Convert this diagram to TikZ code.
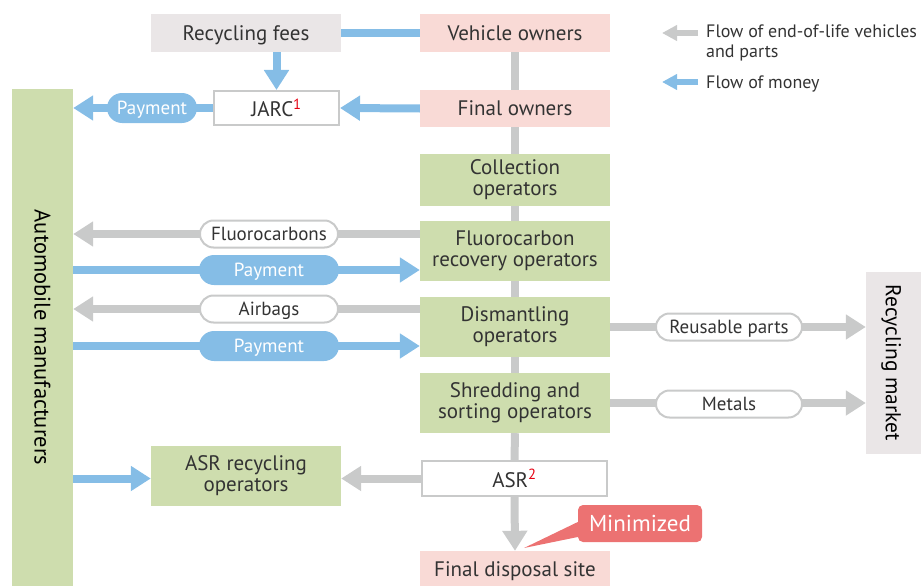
\documentclass[tikz,border=0pt]{standalone}
\usepackage{fontspec}
\setmainfont{PT Sans}
\usetikzlibrary{arrows.meta}
\definecolor{cblue}{HTML}{85BDE6}
\definecolor{cgray}{HTML}{C9CACA}
\definecolor{cgreen}{HTML}{CEDDAE}
\definecolor{cpink}{HTML}{F9DAD6}
\definecolor{cbox}{HTML}{EAE6E7}
\definecolor{ctext}{HTML}{333333}
\definecolor{cred}{HTML}{E60012}
\definecolor{cmin}{HTML}{EC7272}
\begin{document}
\begin{tikzpicture}[x=1pt,y=-1pt,
  every node/.style={inner sep=0pt, align=center, text=ctext, font=\fontsize{21}{21}\selectfont},
  one/.style={text depth=0pt},
  boxn/.style={minimum width=190pt, minimum height=#1},
  framebox/.style={one, fill=white, draw=cgray, line width=2pt},
  gline/.style={draw=cgray, line width=8pt},
  bline/.style={draw=cblue, line width=8pt},
  garrow/.style={gline, -{Triangle[length=20pt,width=24pt]}},
  barrow/.style={bline, -{Triangle[length=20pt,width=24pt]}},
  gsmall/.style={draw=cgray, line width=6pt, -{Triangle[length=15pt,width=15pt]}},
  bsmall/.style={draw=cblue, line width=6pt, -{Triangle[length=15pt,width=15pt]}},
  pillfont/.style={one, font=\fontsize{19}{19}\selectfont},
  wpill/.style={pillfont, fill=white, draw=cgray, line width=2pt, rounded corners=13.5pt, minimum height=27pt},
  bpill/.style={pillfont, fill=cblue, text=white, rounded corners=15pt, minimum height=30pt},
  sidelabel/.style={one, rotate=-90, text=black},
  legend/.style={align=left, text=ctext, font=\fontsize{18}{20}\selectfont}
]
\useasboundingbox (0,0) rectangle (921,586);

% side bars
\node[minimum width=61pt, minimum height=500pt, fill=cgreen] (auto) at (42.5,339) {};
\node[sidelabel, font=\fontsize{22.5}{22.5}\selectfont] (autol) at (42.5,337.5) {Automobile manufacturers};
\node[minimum width=55pt, minimum height=182pt, fill=cbox] (rm) at (893.5,363) {};
\node[sidelabel, font=\fontsize{21.5}{21.5}\selectfont] (rml) at (893.5,363) {Recycling market};

% main boxes
\node[one, boxn=38pt, fill=cbox] (rf) at (246,33) {Recycling fees};
\node[one, boxn=38pt, fill=cpink] (vo) at (515,33) {Vehicle owners};
\node[framebox, minimum width=125pt, minimum height=34pt] (jarc) at (276.5,108) {JARC\textcolor{cred}{\textsuperscript{1}}};
\node[one, boxn=37pt, fill=cpink] (fo) at (515,108.5) {Final owners};
\node[boxn=52pt, fill=cgreen] (co) at (515,180) {Collection\\operators};
\node[boxn=60pt, fill=cgreen] (fro) at (515,251) {Fluorocarbon\\recovery operators};
\node[boxn=60pt, fill=cgreen] (dis) at (515,327) {Dismantling\\operators};
\node[boxn=60pt, fill=cgreen] (shr) at (515,403) {Shredding and\\sorting operators};
\node[framebox, minimum width=185pt, minimum height=35pt] (asr) at (514.5,478.5) {ASR\textcolor{cred}{\textsuperscript{2}}};
\node[one, boxn=36pt, fill=cpink] (fds) at (515,569) {Final disposal site};
\node[boxn=60pt, fill=cgreen] (asrr) at (246,475.5) {ASR recycling\\operators};

% vertical gray flow
\draw[gline] (vo.south) -- (fo.north);
\draw[gline] (fo.south) -- (co.north);
\draw[gline] (co.south) -- (fro.north);
\draw[gline] (fro.south) -- (dis.north);
\draw[gline] (dis.south) -- (shr.north);
\draw[gline] (shr.south) -- (asr.north);
\draw[garrow] (asr.south) -- (fds.north);

% money top
\draw[bline] (rf.east) -- (vo.west);
\draw[barrow] (rf.south -| jarc.north) -- (jarc.north);
\draw[barrow] (fo.west) -- (jarc.east);
\draw[barrow] (jarc.west) -- (auto.east |- jarc.west);
\node[bpill, minimum width=90pt] (pay0) at (152,108) {Payment};

% left flows
\coordinate (y1) at ([yshift=17pt]fro.west);
\coordinate (y2) at ([yshift=-19pt]fro.west);
\coordinate (y3) at ([yshift=18pt]dis.west);
\coordinate (y4) at ([yshift=-19pt]dis.west);
\draw[garrow] (y1) -- (auto.east |- y1);
\draw[barrow] (auto.east |- y2) -- (y2);
\draw[garrow] (y3) -- (auto.east |- y3);
\draw[barrow] (auto.east |- y4) -- (y4);
\node[wpill, minimum width=138pt] (fc) at (269,234) {Fluorocarbons};
\node[bpill, minimum width=140pt] (pay1) at (269,270) {Payment};
\node[wpill, minimum width=138pt] (ab) at (269,309) {Airbags};
\node[bpill, minimum width=140pt] (pay2) at (269,346) {Payment};

% right flows
\draw[garrow] (dis.east) -- (rm.west |- dis.east);
\draw[garrow] (shr.east) -- (rm.west |- shr.east);
\node[wpill, minimum width=146pt] (rp) at (729,327) {Reusable parts};
\node[wpill, minimum width=146pt] (mt) at (729,404) {Metals};

% ASR flows
\draw[garrow] (asr.west) -- (asrr.east |- asr.west);
\draw[barrow] (auto.east |- asr.west) -- (asrr.west |- asr.west);

% minimized callout
\node[one, fill=cmin, rounded corners=5pt, minimum width=124pt, minimum height=37pt, text=white, font=\fontsize{23}{23}\selectfont] (min) at (640,523.5) {Minimized};
\coordinate (tip) at (524,548);
\fill[cmin] ([yshift=1.5pt]min.west) -- (tip) -- ([yshift=-13.5pt]min.west) -- cycle;

% legend
\coordinate (l1a) at (698,33);
\coordinate (l1b) at (662,33);
\coordinate (l2a) at (698,82);
\coordinate (l2b) at (662,82);
\draw[gsmall] (l1a) -- (l1b);
\draw[bsmall] (l2a) -- (l2b);
\node[legend, anchor=west] (lt1) at (706,43) {Flow of end-of-life vehicles\\and parts};
\node[legend, one, anchor=west] (lt2) at (706,82) {Flow of money};
\end{tikzpicture}
\end{document}
